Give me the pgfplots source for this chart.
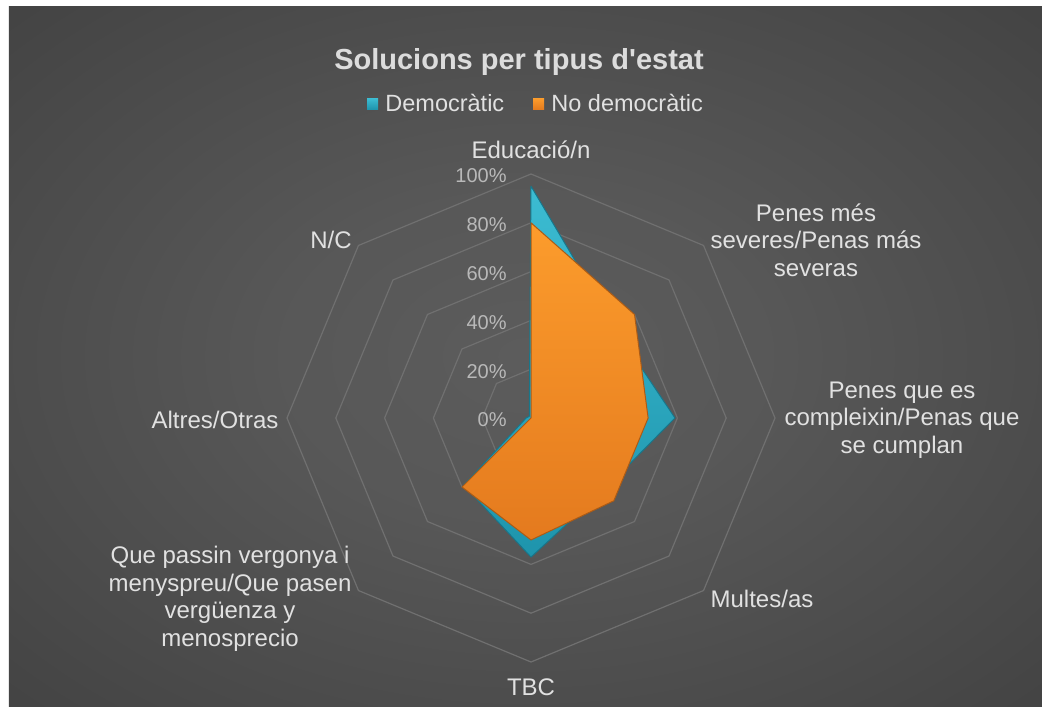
\documentclass[border=0pt]{standalone}
\usepackage{pgfplots}
\pgfplotsset{compat=1.18}
\usepgfplotslibrary{polar}
\usepackage{fontspec}
\setmainfont{Liberation Sans}
\definecolor{demo}{RGB}{43,170,196}
\definecolor{demotop}{RGB}{60,188,210}
\definecolor{demobot}{RGB}{30,148,172}
\definecolor{nodemo}{RGB}{246,146,36}
\definecolor{nodemotop}{RGB}{252,156,44}
\definecolor{nodemobot}{RGB}{228,122,30}
\definecolor{gridc}{RGB}{112,112,112}
\definecolor{labc}{RGB}{225,225,225}
\definecolor{tickc}{RGB}{185,185,185}
\definecolor{titc}{RGB}{220,220,220}
\definecolor{bgin}{RGB}{92,92,92}
\definecolor{bgout}{RGB}{36,36,36}
\pgfdeclareradialshading{bgshade}{\pgfpoint{0bp}{0bp}}{color(0bp)=(bgin); color(12bp)=(bgin!92!bgout); color(72bp)=(bgout)}
\pgfdeclarelayer{background}
\pgfsetlayers{background,main}
\begin{document}
\begin{tikzpicture}
\begin{polaraxis}[
  scale only axis, width=244pt, height=244pt,
  xmin=0, xmax=360, ymin=0, ymax=100,
  hide axis, clip=false,
  every axis plot/.append style={mark=none},
]
\coordinate (C) at (axis cs:0,0);
% octagonal gridlines
\addplot[draw=gridc, line width=0.6pt] coordinates {(0,20)(45,20)(90,20)(135,20)(180,20)(225,20)(270,20)(315,20)(360,20)};
\addplot[draw=gridc, line width=0.6pt] coordinates {(0,40)(45,40)(90,40)(135,40)(180,40)(225,40)(270,40)(315,40)(360,40)};
\addplot[draw=gridc, line width=0.6pt] coordinates {(0,60)(45,60)(90,60)(135,60)(180,60)(225,60)(270,60)(315,60)(360,60)};
\addplot[draw=gridc, line width=0.6pt] coordinates {(0,80)(45,80)(90,80)(135,80)(180,80)(225,80)(270,80)(315,80)(360,80)};
\addplot[draw=gridc, line width=0.6pt] coordinates {(0,100)(45,100)(90,100)(135,100)(180,100)(225,100)(270,100)(315,100)(360,100)};
% Democratic
\addplot[top color=demotop, bottom color=demobot, draw=demobot!80!black, line width=0.5pt, line join=round]
  coordinates {(90,95)(45,50)(0,59)(-45,42)(-90,57)(-135,39)(-180,2)(-225,1)(-270,95)} -- cycle;
% Non democratic
\addplot[top color=nodemotop, bottom color=nodemobot, draw=nodemobot!75!black, line width=0.5pt, line join=round]
  coordinates {(90,80)(45,60)(0,48)(-45,48)(-90,50)(-135,40)(-180,0)(-225,0)(-270,80)} -- cycle;
% radial tick labels
\foreach \r in {0,20,40,60,80,100} {
  \edef\tmp{\noexpand\node[anchor=east, inner sep=0pt, text=tickc, font=\noexpand\fontsize{10}{12}\noexpand\selectfont] at ([xshift=-12pt,yshift=-1pt]axis cs:90,\r) {\r\noexpand\%};}
  \tmp
}
\end{polaraxis}
\begin{scope}[shift={(C)}, x=0.5pt, y=-0.5pt, shift={(-531,-418)}]
\begin{pgfonlayer}{background}
\fill[white] (0,0) rectangle (1042,706);
\fill[bgout] (9,7) rectangle (1060,720);
\shade[shading=bgshade] (9,7) rectangle (1042,706);
\end{pgfonlayer}
% title
\node[anchor=base, inner sep=0pt, text=titc, font=\bfseries\fontsize{14.5}{17}\selectfont] at (519,70) {Solucions per tipus d\textquotesingle estat};
% legend
\fill[top color=demotop, bottom color=demobot] (367,98.5) rectangle (378,109.5);
\node[anchor=base west, inner sep=0pt, text=labc, font=\fontsize{11.75}{14}\selectfont] at (385,112) {Democràtic};
\fill[top color=nodemotop, bottom color=nodemobot] (533,98.5) rectangle (544,109.5);
\node[anchor=base west, inner sep=0pt, text=labc, font=\fontsize{11.75}{14}\selectfont] at (551,112) {No democràtic};
% category labels
\tikzset{lab/.style={inner sep=0pt, text=labc, align=center, font=\fontsize{12}{13.75}\selectfont}}
\node[lab] at (531,150) {Educació/n};
\node[lab] at (816,240) {Penes més\\severes/Penas más\\severas};
\node[lab] at (902,420) {Penes que es\\compleixin/Penas que\\se cumplan};
\node[lab] at (762,599) {Multes/as};
\node[lab] at (531,687) {TBC};
\node[lab] at (230,599) {Que passin vergonya i\\menyspreu/Que pasen\\vergüenza y\\menosprecio};
\node[lab] at (215,420) {Altres/Otras};
\node[lab] at (331,240) {N/C};
\pgfresetboundingbox
\path (0,0) rectangle (1042,706);
\end{scope}
\end{tikzpicture}
\end{document}
